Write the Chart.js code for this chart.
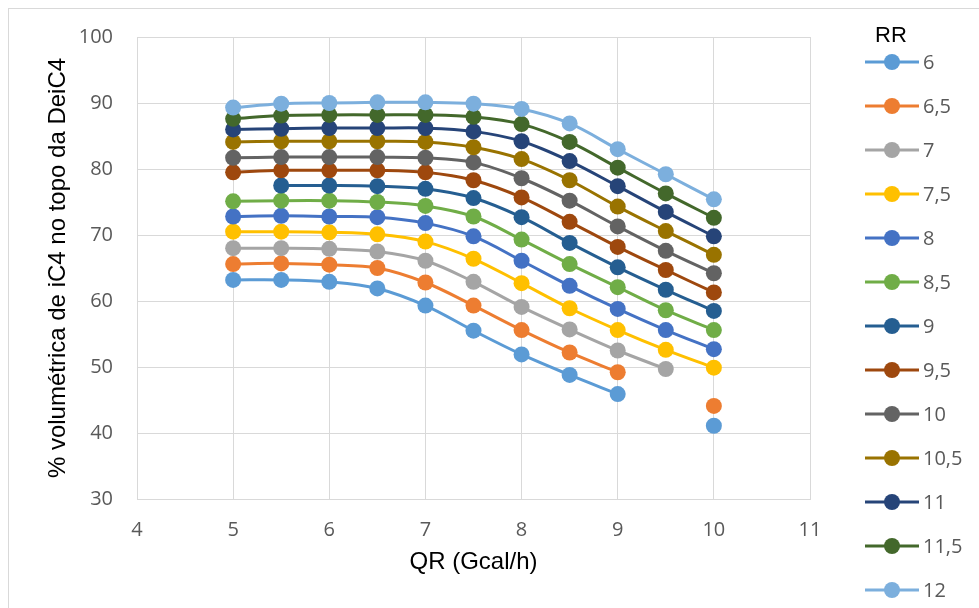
<!DOCTYPE html>
<html>
<head>
<meta charset="utf-8">
<script src="https://cdn.jsdelivr.net/npm/chart.js"></script>
<style>
  html, body { margin: 0; padding: 0; background: #fff; }
  #wrap { width: 979px; height: 608px; position: relative; }
</style>
</head>
<body>
<div id="wrap"><canvas id="qrChart"></canvas></div>
<script>
// QR (Gcal/h) on the x axis
const qr = [5, 5.5, 6, 6.5, 7, 7.5, 8, 8.5, 9, 9.5, 10];

// % volumétrica de iC4, one list per RR
const rr6   = [63.2, 63.2, 62.9, 61.9, 59.3, 55.5, 51.9, 48.8, 45.9, null, 41.1];
const rr6_5 = [65.6, 65.7, 65.5, 65.0, 62.8, 59.3, 55.6, 52.2, 49.2, null, 44.1];
const rr7   = [68.0, 68.0, 67.9, 67.5, 66.1, 62.9, 59.1, 55.7, 52.5, 49.7, null];
const rr7_5 = [70.5, 70.5, 70.4, 70.1, 69.0, 66.4, 62.7, 58.9, 55.6, 52.6, 49.9];
const rr8   = [72.8, 72.9, 72.8, 72.7, 71.8, 69.8, 66.1, 62.3, 58.8, 55.6, 52.7];
const rr8_5 = [75.1, 75.2, 75.2, 75.0, 74.4, 72.8, 69.3, 65.6, 62.1, 58.6, 55.6];
const rr9   = [null, 77.5, 77.5, 77.4, 77.0, 75.6, 72.7, 68.8, 65.1, 61.7, 58.5];
const rr9_5 = [79.5, 79.8, 79.8, 79.8, 79.5, 78.3, 75.7, 72.0, 68.2, 64.7, 61.3];
const rr10  = [81.7, 81.8, 81.8, 81.8, 81.7, 81.0, 78.6, 75.2, 71.3, 67.6, 64.2];
const rr10_5 = [84.1, 84.2, 84.2, 84.2, 84.1, 83.3, 81.5, 78.3, 74.3, 70.6, 67.0];
const rr11  = [86.0, 86.1, 86.2, 86.2, 86.2, 85.7, 84.2, 81.2, 77.4, 73.5, 69.8];
const rr11_5 = [87.6, 88.1, 88.2, 88.2, 88.2, 87.9, 86.8, 84.1, 80.2, 76.3, 72.6];
const rr12  = [89.3, 89.9, 90.0, 90.1, 90.1, 89.9, 89.1, 86.9, 83.0, 79.2, 75.4];

const rrLabels = ['6', '6,5', '7', '7,5', '8', '8,5', '9', '9,5', '10', '10,5', '11', '11,5', '12'];
const rrSeries = [rr6, rr6_5, rr7, rr7_5, rr8, rr8_5, rr9, rr9_5, rr10, rr10_5, rr11, rr11_5, rr12];
const rrColors = ['#5B9BD5', '#ED7D31', '#A5A5A5', '#FFC000', '#4472C4', '#70AD47',
                  '#255E91', '#9E480E', '#636363', '#997300', '#264478', '#43682B', '#7CAFDD'];

const xTicks = [4, 5, 6, 7, 8, 9, 10, 11];
const yTicks = [30, 40, 50, 60, 70, 80, 90, 100];

const gridColor = '#D9D9D9';
const tickFont = { family: '"Open Sans"', size: 20 };

// frame around the whole chart, as in the Excel export
const framePlugin = {
  id: 'frame',
  beforeDraw(chart) {
    const c = chart.ctx;
    c.save();
    c.strokeStyle = gridColor;
    c.lineWidth = 1;
    c.strokeRect(8.5, 8.5, 1000, 700);
    c.restore();
  }
};

// Excel-style legend: line with a marker, then the label
const rrLegend = {
  id: 'rrLegend',
  afterDraw(chart) {
    const c = chart.ctx;
    c.save();
    c.textBaseline = 'middle';
    c.fillStyle = '#000';
    c.font = '22px "Liberation Sans"';
    c.fillText('RR', 875, 36);
    c.font = '20px "Open Sans"';
    chart.data.datasets.forEach((ds, i) => {
      const y = 62 + i * 44;
      c.strokeStyle = ds.borderColor;
      c.lineWidth = 3;
      c.beginPath();
      c.moveTo(865, y);
      c.lineTo(919, y);
      c.stroke();
      c.fillStyle = ds.backgroundColor;
      c.beginPath();
      c.arc(892, y, 8, 0, Math.PI * 2);
      c.fill();
      c.fillStyle = '#595959';
      c.fillText(ds.label, 923, y + 1);
    });
    c.restore();
  }
};

const datasets = rrSeries.map((vals, i) => ({
  label: rrLabels[i],
  data: qr.map((x, j) => ({ x: x, y: vals[j] })),
  borderColor: rrColors[i],
  backgroundColor: rrColors[i],
  borderWidth: 3,
  pointRadius: 8,
  pointHoverRadius: 8,
  pointBorderWidth: 0,
  tension: 0.35,
  spanGaps: false,
  order: rrSeries.length - i
}));

new Chart(document.getElementById('qrChart'), {
  type: 'line',
  data: { datasets: datasets },
  plugins: [framePlugin, rrLegend],
  options: {
    responsive: true,
    maintainAspectRatio: false,
    animation: false,
    layout: { padding: { left: 0, right: 169, top: 37, bottom: 0 } },
    plugins: {
      legend: { display: false },
      tooltip: { enabled: false }
    },
    scales: {
      x: {
        type: 'linear',
        min: 4,
        max: 11,
        afterBuildTicks: s => { s.ticks = xTicks.map(v => ({ value: v })); },
        afterFit: s => { s.height = 109; },
        ticks: { font: tickFont, color: '#595959', padding: 19, maxRotation: 0 },
        grid: { color: gridColor, drawTicks: false },
        border: { color: gridColor },
        title: {
          display: true,
          text: 'QR (Gcal/h)',
          color: '#000',
          font: { family: '"Liberation Sans"', size: 24 },
          padding: { top: 4, bottom: 31 }
        }
      },
      y: {
        min: 30,
        max: 100,
        afterBuildTicks: s => { s.ticks = yTicks.map(v => ({ value: v })); },
        afterFit: s => { s.width = 137; },
        ticks: { font: tickFont, color: '#595959', padding: 24 },
        grid: { color: gridColor, drawTicks: false },
        border: { color: gridColor },
        title: {
          display: true,
          text: '% volumétrica de iC4 no topo da DeiC4',
          color: '#000',
          font: { family: '"Liberation Sans"', size: 24 },
          padding: { top: 44, bottom: 4 }
        }
      }
    }
  }
});
</script>
</body>
</html>
